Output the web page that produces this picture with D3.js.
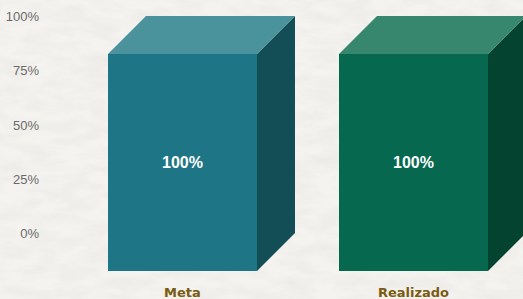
<!DOCTYPE html>
<html lang="pt">
<head>
<meta charset="UTF-8" />
<title>Meta x Realizado</title>
<script src="https://d3js.org/d3.v7.min.js"></script>
<style>
  html, body { margin: 0; padding: 0; background: #f3f1ed; }
  .tick text { font-family: "Liberation Sans", Arial, sans-serif; font-size: 13px; fill: #6b6b6b; }
  .cat { font-family: "DejaVu Sans", Verdana, sans-serif; font-size: 13px; font-weight: bold; fill: #7a5b12; }
  .val { font-family: "Liberation Sans", Arial, sans-serif; font-size: 16px; font-weight: bold; fill: #ffffff; }
</style>
</head>
<body>
<div id="chart"></div>
<script>
const width = 523, height = 299;

const categories = ["Meta", "Realizado"];
const values = [100, 100];
const tickValues = [0, 25, 50, 75, 100];
const frontColors = ["#1e7585", "#05684f"];
const topColors = ["#4a929c", "#37876f"];
const sideColors = ["#134e56", "#04432f"];

const depth = 38;

const svg = d3.select("#chart").append("svg")
  .attr("width", width)
  .attr("height", height);

// paper texture
const defs = svg.append("defs");
const f = defs.append("filter").attr("id", "paper")
  .attr("x", 0).attr("y", 0).attr("width", "100%").attr("height", "100%");
f.append("feTurbulence").attr("type", "fractalNoise")
  .attr("baseFrequency", "0.035 0.09").attr("numOctaves", 4).attr("seed", 3).attr("result", "noise");
f.append("feColorMatrix").attr("in", "noise").attr("type", "matrix")
  .attr("values", "0 0 0 0 0.80  0 0 0 0 0.79  0 0 0 0 0.76  0 0 0 -1.1 0.75")
  .attr("result", "tint");
f.append("feComposite").attr("in", "tint").attr("in2", "SourceGraphic").attr("operator", "over");

svg.append("rect").attr("width", width).attr("height", height)
  .attr("fill", "#f5f3ef").attr("filter", "url(#paper)");

const x = d3.scaleBand()
  .domain(categories)
  .range([108, 488])
  .paddingInner(0.355)
  .paddingOuter(0);

const y = d3.scaleLinear()
  .domain([0, 100])
  .range([233, 16]);

// y axis
const yAxis = svg.append("g")
  .attr("transform", "translate(42,0)")
  .call(d3.axisLeft(y).tickValues(tickValues).tickSize(0).tickPadding(3).tickFormat(d => d + "%"));
yAxis.select(".domain").remove();
yAxis.selectAll("text").attr("dy", "0.35em");

// 3D bars
const bars = svg.selectAll(".bar")
  .data(categories.map((c, i) => ({ c, v: values[i], i })))
  .join("g")
  .attr("class", "bar");

bars.each(function (d) {
  const g = d3.select(this);
  const x0 = x(d.c), x1 = x0 + x.bandwidth();
  const yt = y(d.v) + depth, yb = y(0) + depth;

  // side
  g.append("path")
    .attr("d", `M${x1},${yt}L${x1 + depth},${yt - depth}L${x1 + depth},${yb - depth}L${x1},${yb}Z`)
    .attr("fill", sideColors[d.i]);
  // top
  g.append("path")
    .attr("d", `M${x0},${yt}L${x0 + depth},${yt - depth}L${x1 + depth},${yt - depth}L${x1},${yt}Z`)
    .attr("fill", topColors[d.i]);
  // front
  g.append("rect")
    .attr("x", x0).attr("y", yt)
    .attr("width", x.bandwidth()).attr("height", yb - yt)
    .attr("fill", frontColors[d.i]);

  g.append("text").attr("class", "val")
    .attr("x", (x0 + x1) / 2)
    .attr("y", (yt + yb) / 2)
    .attr("dy", "0.35em")
    .attr("text-anchor", "middle")
    .text(d.v + "%");

  g.append("text").attr("class", "cat")
    .attr("x", (x0 + x1) / 2)
    .attr("y", 297)
    .attr("text-anchor", "middle")
    .text(d.c);
});
</script>
</body>
</html>
